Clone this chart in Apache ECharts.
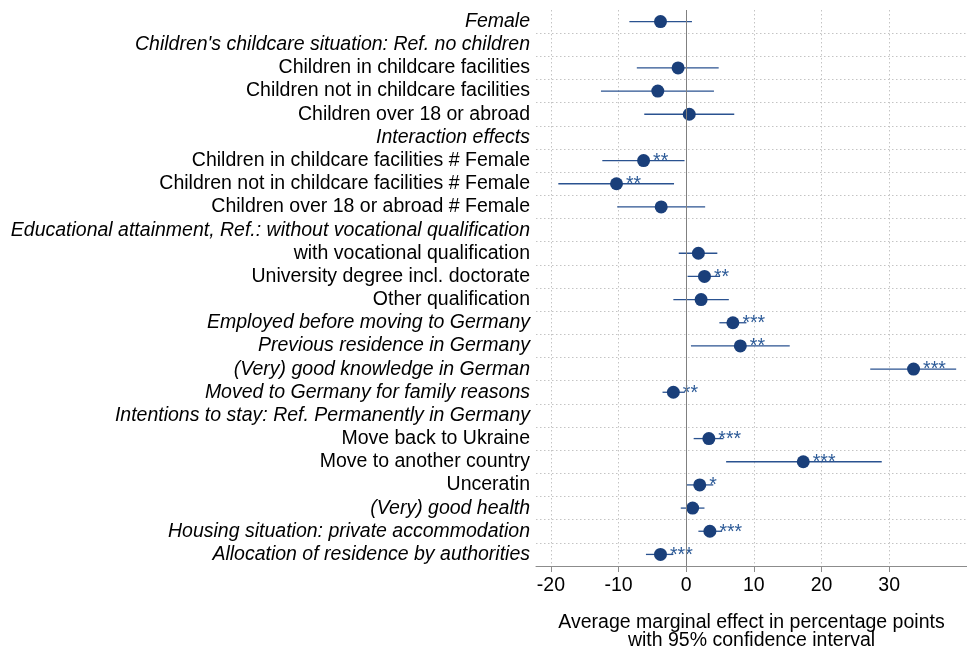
<!DOCTYPE html>
<html>
<head>
<meta charset="utf-8">
<script src="https://cdn.jsdelivr.net/npm/echarts@6/dist/echarts.min.js"></script>
<style>
  html, body { margin: 0; padding: 0; background: #fff; }
  #main { width: 967px; height: 648px; }
</style>
</head>
<body>
<div id="main"></div>
<script>
// rows, top to bottom
var labels = [
  "Female",
  "Children's childcare situation: Ref. no children",
  "Children in childcare facilities",
  "Children not in childcare facilities",
  "Children over 18 or abroad",
  "Interaction effects",
  "Children in childcare facilities # Female",
  "Children not in childcare facilities # Female",
  "Children over 18 or abroad # Female",
  "Educational attainment, Ref.: without vocational qualification",
  "with vocational qualification",
  "University degree incl. doctorate",
  "Other qualification",
  "Employed before moving to Germany",
  "Previous residence in Germany",
  "(Very) good knowledge in German",
  "Moved to Germany for family reasons",
  "Intentions to stay: Ref. Permanently in Germany",
  "Move back to Ukraine",
  "Move to another country",
  "Unceratin",
  "(Very) good health",
  "Housing situation: private accommodation",
  "Allocation of residence by authorities"
];
// 1 = italic label
var italic = [1,1,0,0,0,1,0,0,0,1,0,0,0,1,1,1,1,1,0,0,0,1,1,1];
// average marginal effects and 95% CI
var est = [-3.8, null, -1.2, -4.2, 0.45, null, -6.3, -10.3, -3.7, null, 1.8, 2.7, 2.2, 6.9, 8.0, 33.6, -1.9, null, 3.35, 17.3, 2.0, 0.95, 3.5, -3.8];
var lo  = [-8.4, null, -7.3, -12.6, -6.2, null, -12.4, -18.9, -10.2, null, -1.1, 0.2, -1.9, 4.9, 0.7, 27.2, -3.5, null, 1.1, 5.9, 0.0, -0.8, 1.8, -5.95];
var hi  = [0.85, null, 4.8, 4.1, 7.1, null, -0.25, -1.8, 2.8, null, 4.6, 5.0, 6.3, 8.9, 15.3, 39.9, -0.2, null, 5.5, 28.9, 4.0, 2.7, 5.3, -1.9];
var stars = ['', '', '', '', '', '', '**', '**', '', '', '', '**', '', '***', '**', '***', '**', '', '***', '***', '*', '', '***', '***'];
var xTicks = [-20, -10, 0, 10, 20, 30];

var font = 'Liberation Sans';
var fs = 19.5;
var chart = echarts.init(document.getElementById('main'));

var ciData = [];
var ptData = [];
for (var i = 0; i < labels.length; i++) {
  if (est[i] === null) continue;
  ciData.push([lo[i], hi[i], i]);
  ptData.push({ value: [est[i], i], stars: stars[i] });
}

var dotted = { color: '#c4c4c4', width: 1, type: [1.5, 2.5] };

var option = {
  animation: false,
  grid: { left: 536, right: 0, top: 10, bottom: 82, containLabel: false, outerBoundsMode: 'none' },
  xAxis: {
    type: 'value',
    min: -22.2,
    max: 41.5,
    axisLine: { show: true, lineStyle: { color: '#8c8c8c', width: 1 } },
    axisTick: { show: true, length: 6, customValues: xTicks, lineStyle: { color: '#8c8c8c' } },
    axisLabel: { customValues: xTicks, margin: 10, color: '#000', fontSize: fs, fontFamily: font },
    splitLine: { show: true, lineStyle: dotted },
    name: 'Average marginal effect in percentage points\nwith 95% confidence interval',
    nameLocation: 'middle',
    nameGap: 48,
    nameTextStyle: { color: '#000', fontSize: fs, fontFamily: font, lineHeight: 18 }
  },
  yAxis: {
    type: 'category',
    inverse: true,
    data: labels,
    axisLine: { show: false },
    axisTick: { show: false },
    splitLine: { show: true, showMinLine: false, showMaxLine: false, lineStyle: dotted },
    axisLabel: {
      margin: 6,
      interval: 0,
      formatter: function (v, idx) {
        return (italic[idx] ? '{i|' : '{n|') + v + '}';
      },
      rich: {
        i: { fontStyle: 'italic', fontSize: fs, fontFamily: font, color: '#000' },
        n: { fontSize: fs, fontFamily: font, color: '#000' }
      }
    }
  },
  series: [
    {
      type: 'custom',
      data: ciData,
      encode: { x: [0, 1], y: 2 },
      renderItem: function (params, api) {
        var a = api.coord([api.value(0), api.value(2)]);
        var b = api.coord([api.value(1), api.value(2)]);
        return {
          type: 'line',
          shape: { x1: a[0], y1: a[1], x2: b[0], y2: b[1] },
          style: { stroke: '#2a5290', lineWidth: 1.3 }
        };
      },
      z: 3
    },
    {
      type: 'scatter',
      data: ptData,
      symbol: 'circle',
      symbolSize: 13,
      itemStyle: { color: '#1a3f7a', opacity: 1 },
      label: {
        show: true,
        position: 'right',
        distance: 3,
        offset: [0, 1],
        color: '#2c5a97',
        fontSize: fs,
        fontFamily: font,
        formatter: function (p) { return p.data.stars; }
      },
      markLine: {
        silent: true,
        symbol: 'none',
        label: { show: false },
        lineStyle: { color: '#808080', width: 1, type: 'solid' },
        data: [{ xAxis: 0 }]
      },
      z: 4
    }
  ]
};
chart.setOption(option);
</script>
</body>
</html>
